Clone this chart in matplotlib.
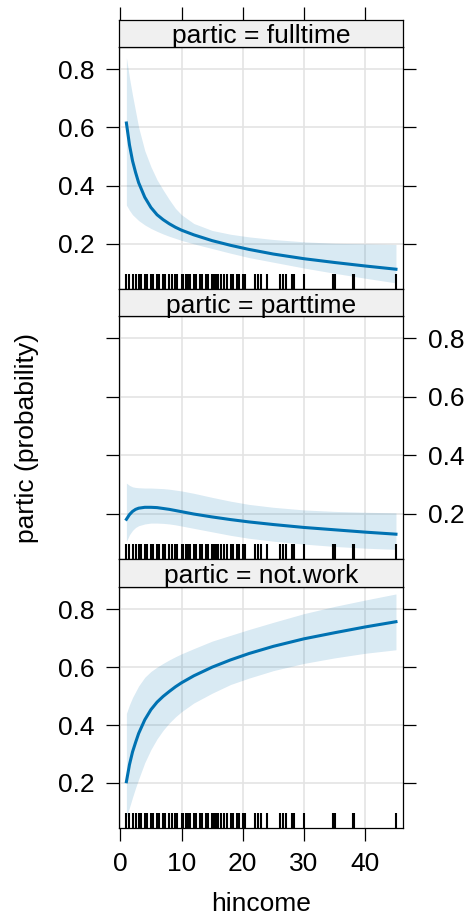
import matplotlib
matplotlib.use("Agg")
import matplotlib.pyplot as plt
import matplotlib.transforms as mtransforms

plt.rcParams["font.family"] = ["Liberation Sans", "DejaVu Sans"]

# fitted probabilities
hincome = [1, 1.5, 2, 2.5, 3, 4, 5, 6, 7, 8, 9, 10, 12, 15, 18, 21, 25, 30, 35, 40, 45]

fulltime_fit = [0.615, 0.54, 0.485, 0.445, 0.41, 0.36, 0.325, 0.30, 0.283, 0.269, 0.257,
                0.247, 0.231, 0.211, 0.195, 0.181, 0.165, 0.149, 0.136, 0.124, 0.113]
fulltime_lo = [0.333, 0.315, 0.30, 0.29, 0.28, 0.265, 0.253, 0.243, 0.234, 0.226, 0.219,
               0.212, 0.20, 0.184, 0.168, 0.153, 0.137, 0.117, 0.099, 0.082, 0.066]
fulltime_hi = [0.84, 0.77, 0.71, 0.655, 0.60, 0.52, 0.465, 0.42, 0.385, 0.352, 0.322,
               0.30, 0.27, 0.246, 0.233, 0.224, 0.215, 0.207, 0.202, 0.20, 0.198]

parttime_fit = [0.181, 0.197, 0.208, 0.215, 0.219, 0.222, 0.222, 0.221, 0.218, 0.215, 0.211,
                0.207, 0.199, 0.189, 0.18, 0.172, 0.163, 0.153, 0.145, 0.137, 0.13]
parttime_lo = [0.105, 0.128, 0.143, 0.153, 0.159, 0.165, 0.168, 0.168, 0.167, 0.165, 0.162,
               0.158, 0.15, 0.138, 0.126, 0.116, 0.106, 0.096, 0.088, 0.082, 0.078]
parttime_hi = [0.305, 0.297, 0.292, 0.29, 0.289, 0.288, 0.288, 0.287, 0.286, 0.284, 0.281,
               0.278, 0.27, 0.256, 0.243, 0.232, 0.222, 0.213, 0.208, 0.205, 0.203]

notwork_fit = [0.204, 0.263, 0.307, 0.34, 0.371, 0.418, 0.453, 0.479, 0.499, 0.516, 0.532,
               0.546, 0.57, 0.60, 0.625, 0.647, 0.672, 0.698, 0.719, 0.739, 0.757]
notwork_lo = [0.08, 0.115, 0.15, 0.183, 0.213, 0.27, 0.315, 0.352, 0.382, 0.407, 0.428,
              0.446, 0.476, 0.51, 0.54, 0.562, 0.588, 0.613, 0.632, 0.648, 0.66]
notwork_hi = [0.44, 0.47, 0.495, 0.515, 0.535, 0.565, 0.585, 0.60, 0.613, 0.625, 0.636,
              0.646, 0.664, 0.69, 0.71, 0.73, 0.755, 0.785, 0.81, 0.832, 0.853]

# observed hincome values (rug)
rug_x = [1.0, 1.5, 2.0, 2.6, 3.0, 3.4, 4.0, 4.4, 5.0, 5.3, 6.0, 6.4, 7.0, 7.3, 8.0, 8.4,
         9.0, 9.3, 10.0, 10.3, 10.7, 11.0, 11.4, 12.0, 12.3, 13.0, 13.4, 14.0, 14.3, 15.0,
         15.3, 15.7, 16.0, 16.4, 17.0, 17.4, 18.0, 18.4, 19.0, 19.3, 20.0, 20.3, 22.0,
         22.5, 23.0, 24.0, 26.0, 26.5, 27.0, 28.0, 28.3, 30.0, 34.8, 35.1, 38.0, 38.2, 45.0]

panels = [
    ("partic = fulltime", fulltime_fit, fulltime_lo, fulltime_hi),
    ("partic = parttime", parttime_fit, parttime_lo, parttime_hi),
    ("partic = not.work", notwork_fit, notwork_lo, notwork_hi),
]

line_col = "#0072B2"
W, H = 466, 922
fig = plt.figure(figsize=(W / 100, H / 100), dpi=100)

left, right = 119.3, 402.7
# (strip top, strip bottom/plot top, plot bottom) in pixels
rows = [(20.5, 46.7, 289.3), (289.3, 316.0, 559.3), (559.3, 587.0, 828.0)]

xlim = (-0.16, 46.1)
ylim = (0.044, 0.877)
xticks = [0, 10, 20, 30, 40]
yticks = [0.2, 0.4, 0.6, 0.8]
tick_len = 9.5
fs = 19

for i, ((title, fit, lo, hi), (st, pt, pb)) in enumerate(zip(panels, rows)):
    ax = fig.add_axes([left / W, 1 - pb / H, (right - left) / W, (pb - pt) / H])
    ax.set_xlim(*xlim)
    ax.set_ylim(*ylim)
    for v in xticks:
        ax.axvline(v, color="#E4E4E4", lw=1.2, zorder=0)
    for v in yticks:
        ax.axhline(v, color="#E4E4E4", lw=1.2, zorder=0)
    ax.fill_between(hincome, lo, hi, color=line_col, alpha=0.15, lw=0, zorder=1)
    ax.plot(hincome, fit, color=line_col, lw=2.2, zorder=3)

    trans = mtransforms.blended_transform_factory(ax.transData, ax.transAxes)
    ax.vlines(rug_x, 0, 0.062, transform=trans, color="black", lw=1.5, zorder=4)

    ax.set_yticks(yticks)
    ax.set_xticks(xticks)
    ax.tick_params(axis="both", direction="out", length=tick_len, width=0.9,
                   labelsize=fs, pad=8.5)
    ax.tick_params(axis="y", left=True, right=True)
    if i == 1:
        ax.tick_params(axis="y", labelleft=False, labelright=True)
    else:
        ax.tick_params(axis="y", labelleft=True, labelright=False)
    ax.set_yticklabels(["0.2", "0.4", "0.6", "0.8"])
    if i == 2:
        ax.tick_params(axis="x", bottom=True, labelbottom=True, pad=8)
        ax.set_xlabel("hincome", fontsize=fs, labelpad=11)
    else:
        ax.tick_params(axis="x", bottom=False, labelbottom=False)
    for sp in ax.spines.values():
        sp.set_linewidth(0.9)

    # strip
    sax = fig.add_axes([left / W, 1 - pt / H, (right - left) / W, (pt - st) / H])
    sax.set_facecolor("#F0F0F0")
    sax.set_xlim(*xlim)
    sax.set_yticks([])
    for sp in sax.spines.values():
        sp.set_linewidth(0.9)
    sax.text(0.5, 0.13, title, transform=sax.transAxes, ha="center", va="baseline",
             fontsize=fs)
    if i == 0:
        sax.set_xticks(xticks)
        sax.tick_params(axis="x", bottom=False, labelbottom=False, top=True,
                        labeltop=False, direction="out", length=tick_len, width=0.9)
    else:
        sax.set_xticks([])

fig.text(27 / W, 1 - 438 / H, "partic (probability)", rotation=90, ha="center",
         va="center", fontsize=fs)

fig.savefig("out.png", dpi=100)
